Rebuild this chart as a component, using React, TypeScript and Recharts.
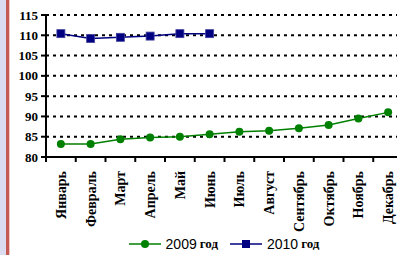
import React from 'react';
import { LineChart, Line, XAxis, YAxis, CartesianGrid } from 'recharts';

const months = ['Январь', 'Февраль', 'Март', 'Апрель', 'Май', 'Июнь', 'Июль', 'Август', 'Сентябрь', 'Октябрь', 'Ноябрь', 'Декабрь'];
const values2009 = [83.2, 83.2, 84.4, 84.8, 85.0, 85.6, 86.2, 86.5, 87.1, 87.9, 89.5, 91.0];
const values2010 = [110.4, 109.2, 109.5, 109.8, 110.4, 110.4];
const yTicks = [80, 85, 90, 95, 100, 105, 110, 115];
const seriesNames = ['2009', '2010'];

const GREEN = '#008000';
const NAVY = '#000080';

const CHART_W = 420;
const CHART_H = 255;
const PLOT_LEFT = 46;
const PLOT_RIGHT = 403;
const HALF_BAND = (PLOT_RIGHT - PLOT_LEFT) / months.length / 2;

const data = months.map((m, i) => ({
    month: m,
    y2009: values2009[i],
    y2010: i < values2010.length ? values2010[i] : null,
}));

const serif = '"Liberation Serif", "Times New Roman", serif';
const sans = '"Liberation Sans", Arial, sans-serif';

const MonthTick = (props: any) => {
    const { x, y, payload, index } = props;
    const axisY = y - 7;
    return (
        <g>
            <line x1={x - HALF_BAND} y1={axisY} x2={x - HALF_BAND} y2={axisY + 5} stroke="#000" strokeWidth={2} />
            {index === months.length - 1 && (
                <line x1={x + HALF_BAND} y1={axisY} x2={x + HALF_BAND} y2={axisY + 5} stroke="#000" strokeWidth={2} />
            )}
            <g transform={`translate(${x},${y})`}>
                <text
                    transform="rotate(-90)"
                    x={-7}
                    y={0}
                    dy="0.35em"
                    textAnchor="end"
                    fontFamily={serif}
                    fontWeight="bold"
                    fontSize={14}
                    fill="#000"
                >
                    {payload.value}
                </text>
            </g>
        </g>
    );
};

const SquareDot = (props: any) => {
    const { cx, cy } = props;
    if (cx == null || cy == null || props.value == null) return null;
    return <rect x={cx - 4} y={cy - 4} width={8} height={8} fill={NAVY} stroke="#4040a0" strokeWidth={0.8} />;
};

const LegendItem = ({ name, color, square }: { name: string; color: string; square: boolean }) => (
    <div style={{ display: 'flex', alignItems: 'center', marginRight: 12 }}>
        <svg width={32} height={12} style={{ marginRight: 5 }}>
            <line x1={0} y1={6} x2={32} y2={6} stroke={color} strokeWidth={1.5} />
            {square ? (
                <rect x={12} y={2} width={8} height={8} fill={color} />
            ) : (
                <circle cx={16} cy={6} r={4} fill={color} />
            )}
        </svg>
        <span style={{ fontFamily: sans, fontSize: 14, color: '#000' }}>{name}</span>
        <span style={{ fontFamily: serif, fontWeight: 'bold', fontSize: 13, color: '#000', marginLeft: 3 }}>год</span>
    </div>
);

export default function App() {
    return (
        <div style={{ position: 'absolute', left: 0, top: 0, width: 397, height: 255, overflow: 'hidden', background: '#fff' }}>
            {/* left frame strip */}
            <div style={{ position: 'absolute', left: 0, top: 0, width: 6, height: 255, background: '#dcdcf0' }} />
            <div style={{ position: 'absolute', left: 6, top: 0, width: 3, height: 255, background: '#c55a55' }} />
            <div style={{ position: 'absolute', left: 9, top: 0, width: 1, height: 255, background: '#f0c8c4' }} />
            <div style={{ position: 'absolute', left: 0, top: 0 }}>
                <LineChart
                    width={CHART_W}
                    height={CHART_H}
                    data={data}
                    margin={{ top: 15, right: CHART_W - PLOT_RIGHT, left: 10, bottom: 18 }}
                >
                    <CartesianGrid
                        vertical={false}
                        stroke="#000"
                        strokeWidth={2}
                        strokeDasharray="3 4"
                    />
                    <XAxis
                        dataKey="month"
                        interval={0}
                        height={80}
                        padding={{ left: HALF_BAND, right: HALF_BAND }}
                        axisLine={{ stroke: '#000', strokeWidth: 2 }}
                        tickLine={false}
                        tickSize={5}
                        tickMargin={2}
                        tick={<MonthTick />}
                    />
                    <YAxis
                        width={PLOT_LEFT - 10}
                        domain={[80, 115]}
                        ticks={yTicks}
                        interval={0}
                        axisLine={{ stroke: '#000', strokeWidth: 2 }}
                        tickLine={{ stroke: '#000', strokeWidth: 2 }}
                        tickSize={5}
                        tickMargin={3}
                        tick={{ fontFamily: serif, fontWeight: 'bold', fontSize: 13, fill: '#000' }}
                    />
                    <Line
                        dataKey="y2009"
                        name={seriesNames[0]}
                        stroke={GREEN}
                        strokeWidth={1.5}
                        dot={{ r: 4, fill: GREEN, stroke: GREEN, strokeWidth: 0 }}
                        isAnimationActive={false}
                    />
                    <Line
                        dataKey="y2010"
                        name={seriesNames[1]}
                        stroke={NAVY}
                        strokeWidth={1.5}
                        dot={<SquareDot />}
                        isAnimationActive={false}
                    />
                </LineChart>
            </div>
            {/* legend */}
            <div style={{ position: 'absolute', left: 0, top: 236, width: 460, display: 'flex', justifyContent: 'center' }}>
                <LegendItem name={seriesNames[0]} color={GREEN} square={false} />
                <LegendItem name={seriesNames[1]} color={NAVY} square={true} />
            </div>
        </div>
    );
}
